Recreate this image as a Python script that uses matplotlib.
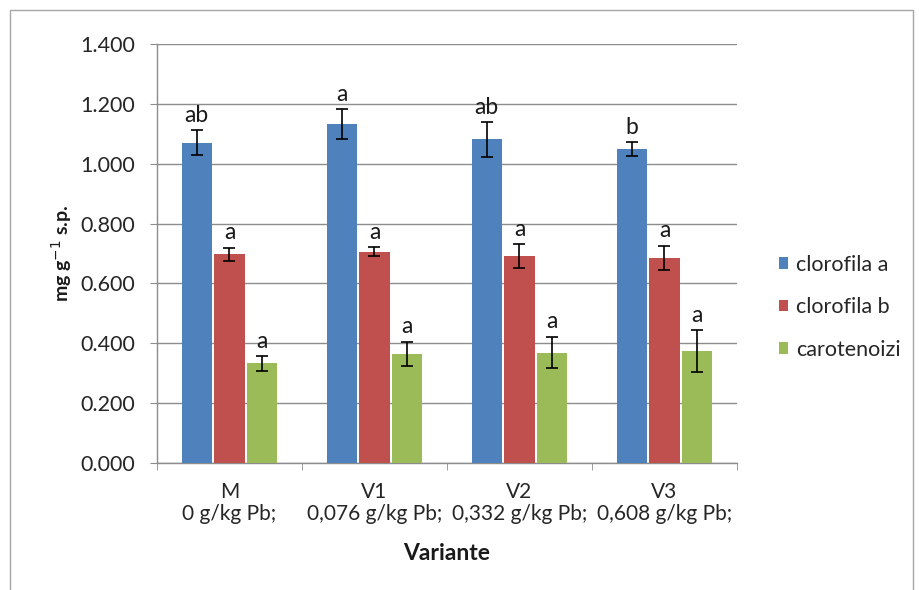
import matplotlib
matplotlib.use("Agg")
import matplotlib.pyplot as plt
from matplotlib.patches import Rectangle
import numpy as np

plt.rcParams['font.family'] = ['Lato', 'DejaVu Sans']

categories = ["M\n0 g/kg Pb;", "V1\n0,076 g/kg Pb;", "V2\n0,332 g/kg Pb;", "V3\n0,608 g/kg Pb;"]
series_names = ["clorofila a", "clorofila b", "carotenoizi"]
clorofila_a = [1.070, 1.132, 1.081, 1.050]
clorofila_a_err = [0.042, 0.050, 0.057, 0.023]
clorofila_b = [0.697, 0.706, 0.692, 0.686]
clorofila_b_err = [0.022, 0.016, 0.040, 0.040]
carotenoizi = [0.333, 0.364, 0.369, 0.374]
carotenoizi_err = [0.024, 0.041, 0.053, 0.069]
letters_a = ["ab", "a", "ab", "b"]
letters_b = ["a", "a", "a", "a"]
letters_c = ["a", "a", "a", "a"]
y_ticks = [0.0, 0.2, 0.4, 0.6, 0.8, 1.0, 1.2, 1.4]

colors = ["#4F81BD", "#C0504D", "#9BBB59"]
text_color = "#262626"
W, H = 920, 590
fig = plt.figure(figsize=(W / 100, H / 100), dpi=100)
fig.patch.set_facecolor("white")

# chart area border
fig.add_artist(Rectangle((10 / W, -0.05), 903 / W, (H - 10) / H + 0.05,
                         transform=fig.transFigure, fill=False,
                         edgecolor="#a6a6a6", linewidth=1.0))

ax = fig.add_axes([157 / W, (H - 463) / H, 580 / W, 419 / H])
x = np.arange(len(categories))
width = 0.207
offsets = [-0.225, 0.0, 0.225]
data = [(clorofila_a, clorofila_a_err, letters_a),
        (clorofila_b, clorofila_b_err, letters_b),
        (carotenoizi, carotenoizi_err, letters_c)]

for (vals, errs, lets), off, col, name in zip(data, offsets, colors, series_names):
    ax.bar(x + off, vals, width, color=col, label=name, zorder=3)
    ax.errorbar(x + off, vals, yerr=errs, fmt="none", ecolor="black",
                elinewidth=1.2, capsize=4, capthick=1.2, zorder=4)
    for xi, v, e, t in zip(x + off, vals, errs, lets):
        ax.annotate(t, (xi, v + e), xytext=(0, 6), textcoords="offset points",
                    ha="center", va="baseline", fontsize=16.5, color="#1a1a1a")

ax.set_xlim(-0.5, len(categories) - 0.5)
ax.set_ylim(0, 1.4)
ax.set_yticks(y_ticks)
ax.set_yticklabels([f"{v:.3f}" for v in y_ticks], fontsize=15.5, color=text_color)
ax.yaxis.grid(True, color="#8c8c8c", linewidth=1.0, zorder=0)
ax.set_axisbelow(True)

ax.set_xticks(x)
ax.set_xticklabels(categories, fontsize=15, color=text_color, linespacing=1.1)
ax.tick_params(axis="x", length=0, pad=14)
ax.set_xticks(np.arange(-0.5, len(categories)), minor=True)
ax.tick_params(axis="x", which="minor", length=5, color="#8c8c8c", direction="out")
ax.tick_params(axis="y", length=5, color="#8c8c8c", direction="out", pad=11)

for s in ["top", "right"]:
    ax.spines[s].set_visible(False)
for s in ["left", "bottom"]:
    ax.spines[s].set_color("#8c8c8c")
    ax.spines[s].set_linewidth(1.0)

ax.set_ylabel("mg g$^{-1}$ s.p.", fontsize=14, fontweight="bold", labelpad=4,
              color="#1a1a1a")
ax.set_xlabel("Variante", fontsize=16.5, fontweight="bold", labelpad=14,
              color="#1a1a1a")

leg = fig.legend(loc="upper left", bbox_to_anchor=(770 / W, 1 - 246 / H),
                 frameon=False, fontsize=15.5, handlelength=0.45, handleheight=0.45,
                 handletextpad=0.35, labelspacing=1.05, borderaxespad=0)
for t in leg.get_texts():
    t.set_color(text_color)

fig.savefig("out.png", dpi=100, facecolor="white")
